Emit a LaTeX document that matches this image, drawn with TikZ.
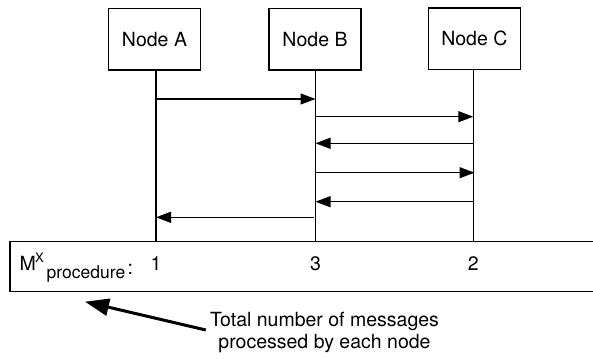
\documentclass[tikz,border=0pt]{standalone}
\usepackage{fontspec}
\setmainfont{TeX Gyre Heros}
\usetikzlibrary{arrows.meta}
\tikzset{
  actor/.style={draw, line width=1.2pt, minimum width=92pt, minimum height=61.5pt, inner sep=0pt, font=\fontsize{19.5}{22}\selectfont},
  life/.style={line width=1.3pt},
  msg/.style={line width=1.2pt, -{Triangle[length=15pt,width=11pt]}},
  lbl/.style={inner sep=0pt, font=\fontsize{19.5}{22}\selectfont},
  big/.style={line width=3pt, -{Triangle[length=24pt,width=17pt]}}
}
\begin{document}
\begin{tikzpicture}[x=1pt,y=-1pt]
\useasboundingbox (0,0) rectangle (593,358);
\node[actor] (A) at (154.5,39.3) {Node A};
\node[actor] (B) at (315,39.3) {Node B};
\node[actor] (C) at (474.3,38.8) {Node C};
% bottom band
\coordinate (bandTR) at (593,241.7);
\coordinate (bandTL) at (10,241.7);
\coordinate (bandBL) at (10,291.7);
\coordinate (bandBR) at (593,291.7);
\draw[line width=1.2pt] (bandTR) -- (bandTL) -- (bandBL) -- (bandBR);
% lifelines
\coordinate (a0) at (156,70); \coordinate (a1) at (156,241.7);
\coordinate (b0) at (315.5,70); \coordinate (b1) at (315.5,241.7);
\coordinate (c0) at (473.3,70); \coordinate (c1) at (473.3,241.7);
\draw[life] (a0) -- (a1);
\draw[life] (b0) -- (b1);
\draw[life] (c0) -- (c1);
% messages
\draw[msg] (156,99) -- (315.5,99);
\draw[msg] (315.5,116.7) -- (473.3,116.7);
\draw[msg] (473.3,143.3) -- (315.5,143.3);
\draw[msg] (315.5,172.7) -- (474.5,172.7);
\draw[msg] (473.3,201.7) -- (315.5,201.7);
\draw[msg] (314,217.3) -- (156,217.3);
% band labels
\node[lbl, anchor=base west] (m) at (19.5,270) {M};
\node[inner sep=0pt, anchor=base west, font=\fontsize{13}{14}\selectfont] (mx) at (35,262) {X};
\node[inner sep=0pt, anchor=base west, font=\fontsize{17.5}{20}\selectfont] (mp) at (46.5,278.5) {procedure};
\node[lbl, anchor=base west] (mc) at (127.5,274) {:};
\node[lbl, anchor=base] (n1) at (156,270) {1};
\node[lbl, anchor=base] (n3) at (315.5,270) {3};
\node[lbl, anchor=base] (n2) at (473.3,270) {2};
% note
\node[lbl, anchor=base] (t1) at (324.5,326.7) {Total number of messages};
\node[lbl, anchor=base] (t2) at (324.5,348.5) {processed by each node};
\coordinate (tip) at (85,301.7);
\draw[big] (t1.west |- 0,330) ++(-4,0) coordinate (tail) -- (tip);
\end{tikzpicture}
\end{document}
